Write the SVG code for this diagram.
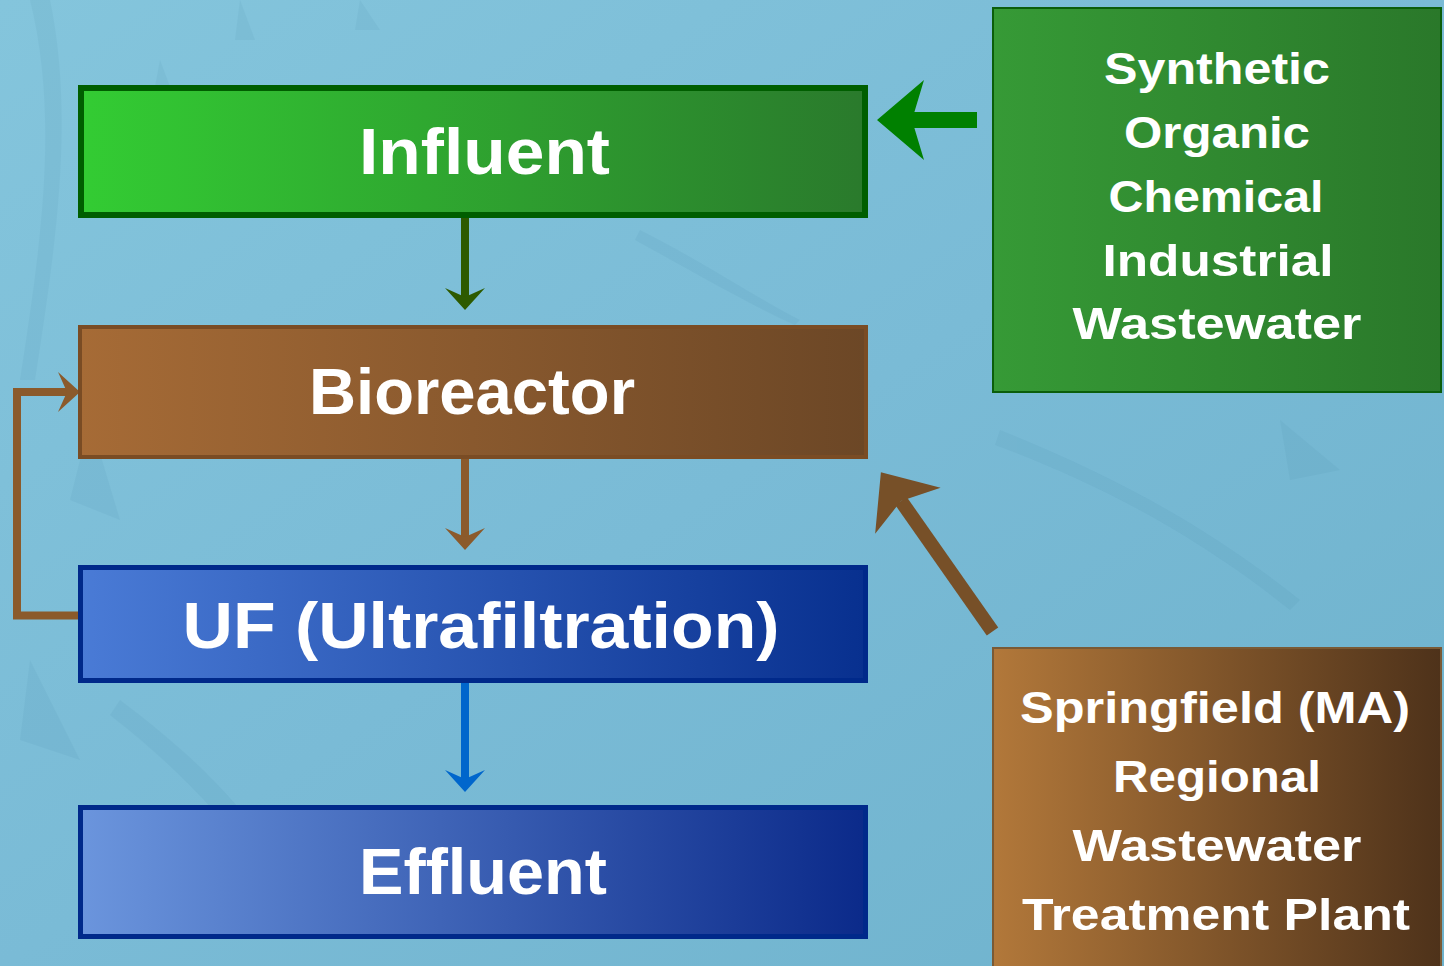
<svg xmlns="http://www.w3.org/2000/svg" width="1444" height="966" viewBox="0 0 1444 966">
<defs>
<linearGradient id="bg" x1="0" y1="0" x2="1" y2="1">
<stop offset="0" stop-color="#84c5dc"/>
<stop offset="0.5" stop-color="#7abbd6"/>
<stop offset="1" stop-color="#6eb2cc"/>
</linearGradient>
<linearGradient id="gInf" x1="0" y1="0" x2="1" y2="0"><stop offset="0" stop-color="#33cc33"/><stop offset="1" stop-color="#2a7a2c"/></linearGradient>
<linearGradient id="gBio" x1="0" y1="0" x2="1" y2="0"><stop offset="0" stop-color="#a66b36"/><stop offset="1" stop-color="#6c4726"/></linearGradient>
<linearGradient id="gUF" x1="0" y1="0" x2="1" y2="0"><stop offset="0" stop-color="#4a7bd6"/><stop offset="1" stop-color="#08308f"/></linearGradient>
<linearGradient id="gEff" x1="0" y1="0" x2="1" y2="0"><stop offset="0" stop-color="#6b95dd"/><stop offset="1" stop-color="#0b2a8a"/></linearGradient>
<linearGradient id="gSyn" x1="0" y1="0" x2="1" y2="0"><stop offset="0" stop-color="#369a36"/><stop offset="1" stop-color="#2a782a"/></linearGradient>
<linearGradient id="gSpr" x1="0" y1="0" x2="1" y2="0"><stop offset="0" stop-color="#b2783a"/><stop offset="1" stop-color="#4e321a"/></linearGradient>
<marker id="mGreenDk" markerUnits="userSpaceOnUse" viewBox="-24 -22 26 44" markerWidth="26" markerHeight="44" refX="-13" refY="0" orient="auto"><path d="M0,0 L-22,-20 L-13,0 L-22,20 Z" fill="#2d5a00"/></marker>
<marker id="mBrown" markerUnits="userSpaceOnUse" viewBox="-24 -22 26 44" markerWidth="26" markerHeight="44" refX="-13" refY="0" orient="auto"><path d="M0,0 L-22,-20 L-13,0 L-22,20 Z" fill="#8b5a2b"/></marker>
<marker id="mBlue" markerUnits="userSpaceOnUse" viewBox="-24 -22 26 44" markerWidth="26" markerHeight="44" refX="-13" refY="0" orient="auto"><path d="M0,0 L-22,-20 L-13,0 L-22,20 Z" fill="#0066cc"/></marker>
<marker id="mBigGreen" markerUnits="userSpaceOnUse" viewBox="-49 -42 51 84" markerWidth="51" markerHeight="84" refX="-35" refY="0" orient="auto"><path d="M0,0 L-47,-40 L-35,0 L-47,40 Z" fill="#008000"/></marker>
<marker id="mBigBrown" markerUnits="userSpaceOnUse" viewBox="-49 -42 51 84" markerWidth="51" markerHeight="84" refX="-35" refY="0" orient="auto"><path d="M0,0 L-47,-40 L-35,0 L-47,40 Z" fill="#775028"/></marker>
</defs>
<style>
.big{font-family:"Liberation Sans",Arial,sans-serif;font-weight:bold;font-size:64px;fill:#ffffff;text-anchor:middle}
.side{font-family:"Liberation Sans",Arial,sans-serif;font-weight:bold;font-size:45px;fill:#ffffff;text-anchor:middle}
.conn{fill:none;stroke-linejoin:miter;stroke-linecap:butt}
</style>
<rect x="0" y="0" width="1444" height="966" fill="url(#bg)"/>
<g opacity="0.06" fill="#2a6a8a">
<path d="M30,0 C60,120 40,250 20,380 L35,380 C55,250 75,120 50,0 Z"/>
<path d="M160,60 L190,140 L145,140 Z"/>
<path d="M240,0 L255,40 L235,40 Z"/>
<path d="M90,420 L120,520 L70,500 Z"/>
<path d="M30,660 L80,760 L20,740 Z"/>
<path d="M120,700 C200,760 260,820 300,900 L280,905 C240,830 180,770 110,715 Z"/>
<path d="M360,0 L380,30 L355,30 Z"/>
<path d="M1000,430 C1100,470 1200,520 1300,600 L1290,610 C1190,530 1090,480 995,445 Z"/>
<path d="M1280,420 L1340,470 L1290,480 Z"/>
<path d="M640,230 C700,260 760,300 800,320 L795,325 C750,305 690,270 635,240 Z"/>
</g>
<g id="connectors">
<line class="conn" x1="465" y1="218" x2="465" y2="297" stroke="#2d5a00" stroke-width="8" marker-end="url(#mGreenDk)"/>
<line class="conn" x1="465" y1="459" x2="465" y2="537" stroke="#8b5a2b" stroke-width="8" marker-end="url(#mBrown)"/>
<line class="conn" x1="465" y1="683" x2="465" y2="779" stroke="#0066cc" stroke-width="8" marker-end="url(#mBlue)"/>
<path class="conn" d="M81,615.5 H17 V392 H67" stroke="#8b5a2b" stroke-width="8" marker-end="url(#mBrown)"/>
<line class="conn" x1="977" y1="120" x2="912" y2="120" stroke="#008000" stroke-width="16" marker-end="url(#mBigGreen)"/>
<line class="conn" x1="992.5" y1="631.5" x2="901" y2="501" stroke="#775028" stroke-width="14" marker-end="url(#mBigBrown)"/>
</g>
<g id="influent">
<rect x="81" y="88" width="784" height="127" fill="url(#gInf)" stroke="#005e00" stroke-width="6"/>
<text class="big" x="484.5" y="174" textLength="251" lengthAdjust="spacingAndGlyphs">Influent</text>
</g>
<g id="bioreactor">
<rect x="80" y="327" width="786" height="130" fill="url(#gBio)" stroke="#7a4c24" stroke-width="4"/>
<text class="big" x="472" y="414" textLength="326" lengthAdjust="spacingAndGlyphs">Bioreactor</text>
</g>
<g id="uf">
<rect x="80.5" y="567.5" width="785" height="113" fill="url(#gUF)" stroke="#00298a" stroke-width="5"/>
<text class="big" x="481" y="648" textLength="597" lengthAdjust="spacingAndGlyphs">UF (Ultrafiltration)</text>
</g>
<g id="effluent">
<rect x="80.5" y="807.5" width="785" height="129" fill="url(#gEff)" stroke="#00298a" stroke-width="5"/>
<text class="big" x="483" y="894" textLength="248" lengthAdjust="spacingAndGlyphs">Effluent</text>
</g>
<g id="synthetic">
<rect x="993" y="8" width="448" height="384" fill="url(#gSyn)" stroke="#0b5e0b" stroke-width="2"/>
<text class="side" x="1217" y="84" textLength="226" lengthAdjust="spacingAndGlyphs">Synthetic</text>
<text class="side" x="1217" y="148" textLength="186" lengthAdjust="spacingAndGlyphs">Organic</text>
<text class="side" x="1216" y="212" textLength="215" lengthAdjust="spacingAndGlyphs">Chemical</text>
<text class="side" x="1218" y="276" textLength="231" lengthAdjust="spacingAndGlyphs">Industrial</text>
<text class="side" x="1217" y="339" textLength="289" lengthAdjust="spacingAndGlyphs">Wastewater</text>
</g>
<g id="springfield">
<rect x="993" y="648" width="448" height="330" fill="url(#gSpr)" stroke="#7a5a35" stroke-width="2"/>
<text class="side" x="1215" y="723" textLength="390" lengthAdjust="spacingAndGlyphs">Springfield (MA)</text>
<text class="side" x="1217" y="792" textLength="208" lengthAdjust="spacingAndGlyphs">Regional</text>
<text class="side" x="1217" y="861" textLength="289" lengthAdjust="spacingAndGlyphs">Wastewater</text>
<text class="side" x="1216" y="930" textLength="388" lengthAdjust="spacingAndGlyphs">Treatment Plant</text>
</g>
</svg>
